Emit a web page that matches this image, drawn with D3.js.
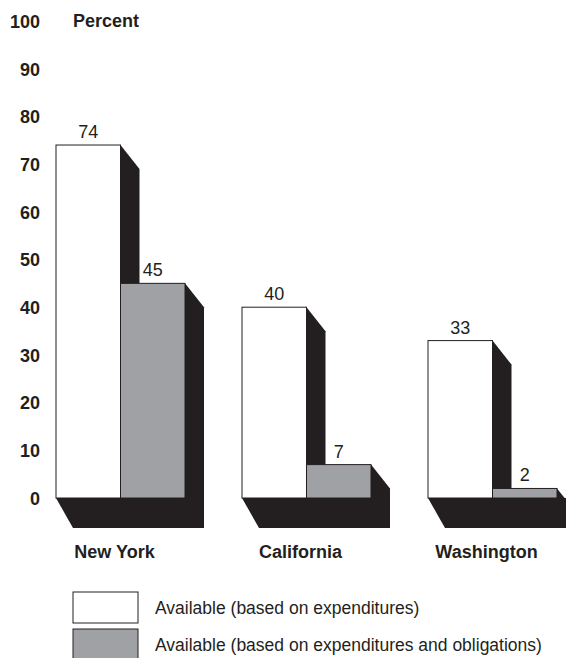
<!DOCTYPE html>
<meta charset="utf-8">
<style>
    body { margin: 0; background: #fff; }
    text { font-family: "Liberation Sans", Arial, sans-serif; fill: #231f20; }
    .tick text, .cat, .title { font-weight: bold; }
    path.shadow { fill: #231f20; stroke: none; }
    rect.bar { stroke: #231f20; stroke-width: 1; }
</style>
<body>
<script src="https://cdn.jsdelivr.net/npm/d3@7"></script>
<script>

    var categories = ["New York", "California", "Washington"];
    var seriesNames = ["Available (based on expenditures)", "Available (based on expenditures and obligations)"];
    var expenditures = [74, 40, 33];
    var obligations = [45, 7, 2];
    var yTicks = [0, 10, 20, 30, 40, 50, 60, 70, 80, 90, 100];
    var colors = ["#ffffff", "#a0a1a4"];

    var width = 566, height = 658;

    var svg = d3.select("body").append("svg")
            .attr("width", width)
            .attr("height", height);

    var y = d3.scaleLinear().domain([0, 100]).range([498, 21]);

    var x0 = d3.scaleBand().domain(categories).range([56, 56 + 3 * 186]).padding(0);
    var x1 = d3.scaleBand().domain([0, 1]).range([0, 129]).padding(0);

    // depth of the fake 3d shadow
    var sideDx = 19, sideDy = 24, floorDx = 17, floorDy = 30;

    var data = categories.map(function(c, i) {
        return {cat: c, values: [expenditures[i], obligations[i]]};
    });

    // y axis
    var yAxis = d3.axisLeft(y).tickValues(yTicks).tickSize(0).tickPadding(0);
    svg.append("g")
            .attr("transform", "translate(40,0)")
            .call(yAxis)
            .call(function(g) { g.select(".domain").remove(); })
            .selectAll("text")
            .attr("font-size", 18)
            .attr("font-family", "Liberation Sans, Arial, sans-serif")
            .attr("fill", "#231f20")
            .attr("dy", "0.35em");

    svg.append("text")
            .attr("class", "title")
            .attr("x", 73)
            .attr("y", y(100))
            .attr("dy", "0.35em")
            .attr("font-size", 18)
            .text("Percent");

    var groups = svg.selectAll("g.group").data(data).enter()
            .append("g")
            .attr("class", "group")
            .attr("transform", function(d) { return "translate(" + x0(d.cat) + ",0)"; });

    // floor shadow
    groups.append("path")
            .attr("class", "shadow")
            .attr("d", function() {
                var right = x1(1) + x1.bandwidth() + floorDx;
                return "M0," + y(0) + "L" + right + "," + y(0) +
                        "L" + right + "," + (y(0) + floorDy) +
                        "L" + floorDx + "," + (y(0) + floorDy) + "Z";
            });

    // side shadows
    groups.selectAll("path.side").data(function(d) { return d.values; }).enter()
            .append("path")
            .attr("class", "shadow side")
            .attr("d", function(v, i) {
                var xr = x1(i) + x1.bandwidth();
                var bottom = i === 1 ? y(0) + floorDy : y(0);
                return "M" + xr + "," + y(v) +
                        "L" + (xr + sideDx) + "," + (y(v) + sideDy) +
                        "L" + (xr + sideDx) + "," + bottom +
                        "L" + xr + "," + bottom + "Z";
            });

    groups.selectAll("rect.bar").data(function(d) { return d.values; }).enter()
            .append("rect")
            .attr("class", "bar")
            .attr("x", function(v, i) { return x1(i); })
            .attr("y", function(v) { return y(v); })
            .attr("width", x1.bandwidth())
            .attr("height", function(v) { return y(0) - y(v); })
            .attr("fill", function(v, i) { return colors[i]; });

    groups.selectAll("text.val").data(function(d) { return d.values; }).enter()
            .append("text")
            .attr("class", "val")
            .attr("x", function(v, i) { return x1(i) + x1.bandwidth() / 2; })
            .attr("y", function(v) { return y(v) - 7; })
            .attr("text-anchor", "middle")
            .attr("font-size", 18)
            .text(function(v) { return v; });

    groups.append("text")
            .attr("class", "cat")
            .attr("x", x1(1) - 6)
            .attr("y", 558)
            .attr("text-anchor", "middle")
            .attr("font-size", 18)
            .text(function(d) { return d.cat; });

    // legend
    var legend = svg.selectAll("g.legend").data(seriesNames).enter()
            .append("g")
            .attr("class", "legend")
            .attr("transform", function(d, i) { return "translate(73," + (592 + i * 37) + ")"; });

    legend.append("rect")
            .attr("class", "bar")
            .attr("width", 65)
            .attr("height", 31)
            .attr("fill", function(d, i) { return colors[i]; });

    legend.append("text")
            .attr("x", 82)
            .attr("y", 22)
            .attr("font-size", 17.5)
            .text(function(d) { return d; });

</script>
